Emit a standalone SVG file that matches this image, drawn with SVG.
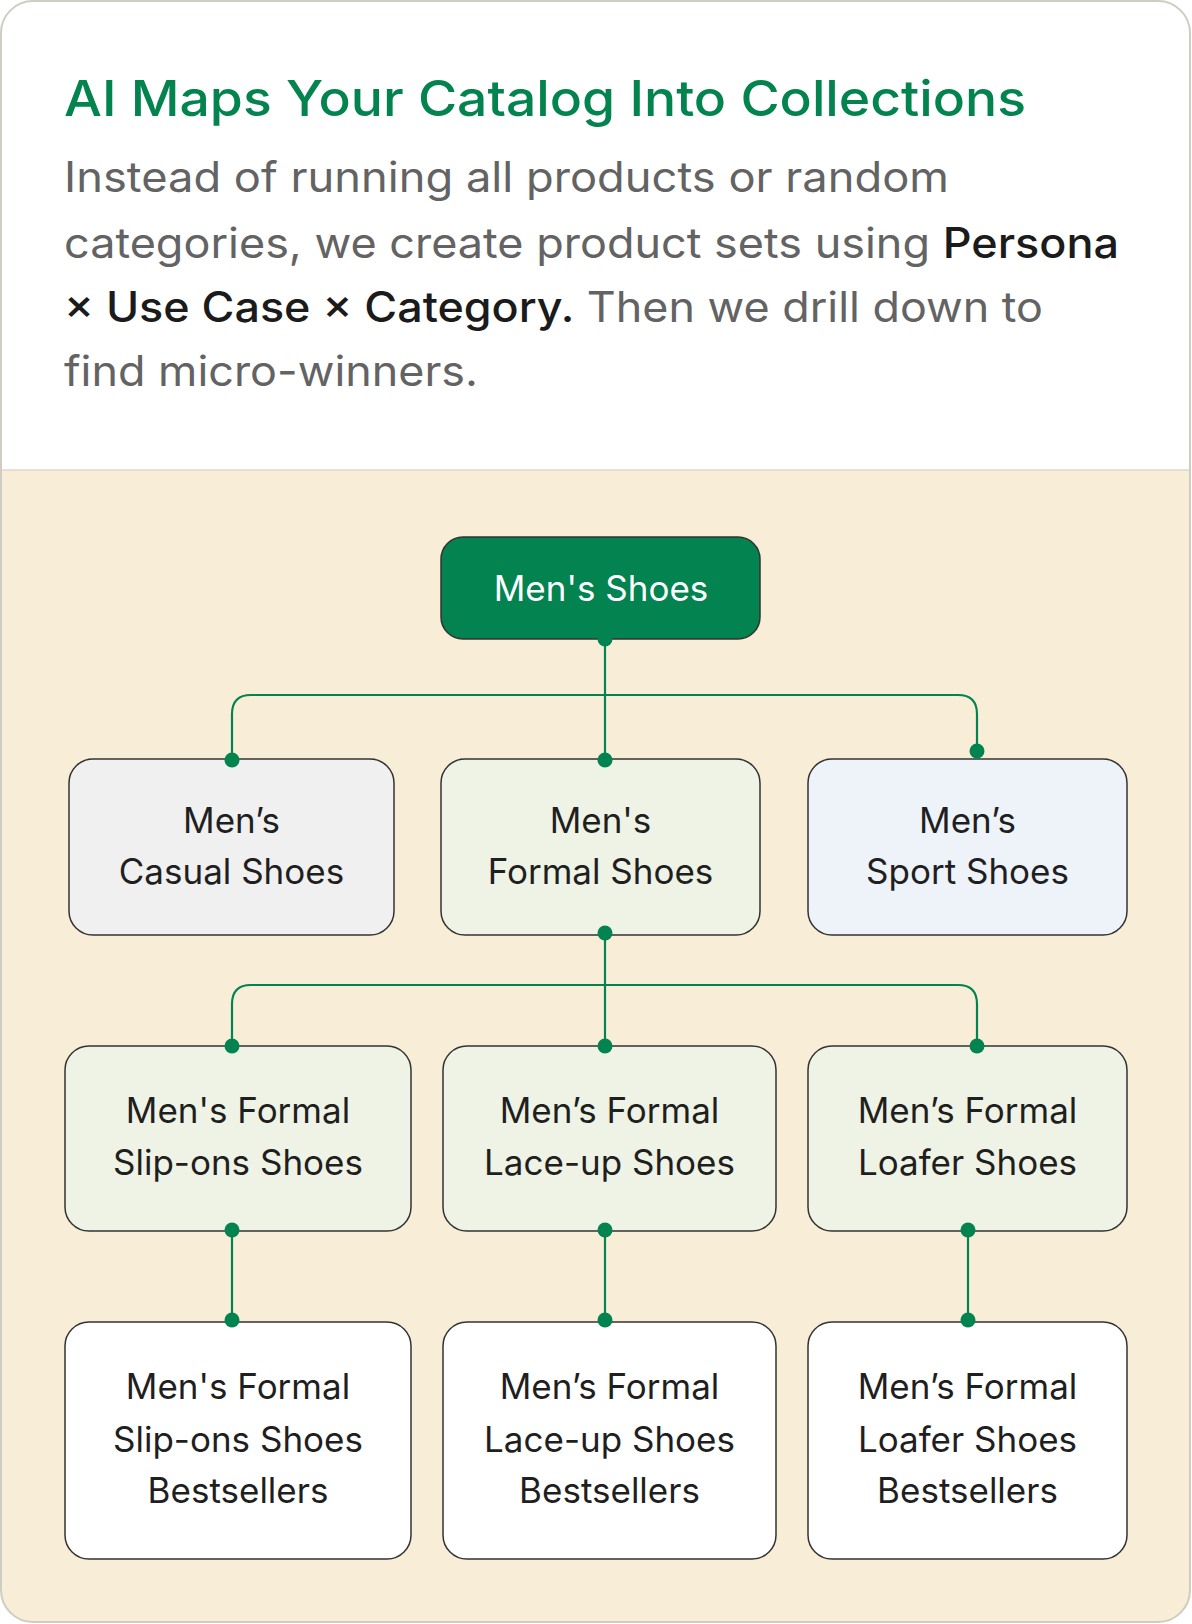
<svg xmlns="http://www.w3.org/2000/svg" width="1192" height="1624" viewBox="0 0 1192 1624">
<defs>
<clipPath id="card"><rect x="1" y="1" width="1189" height="1621" rx="32"/></clipPath>
<style>
.title{font-family:Inter,"Open Sans","Liberation Sans",sans-serif;font-size:50px;font-weight:500;fill:#03844f}
.para{font-family:Inter,"Open Sans","Liberation Sans",sans-serif;font-size:42px;font-weight:400;fill:#636363}
.em{fill:#1b1b1b;font-weight:500}
.box{stroke:#333;stroke-width:1.5}
.lbl{font-family:Inter,"Open Sans","Liberation Sans",sans-serif;font-size:35px;fill:#1f1f1f;text-anchor:middle}
.root{fill:#02834f}
.rootlbl{fill:#ffffff}
.wire{fill:none;stroke:#02834f;stroke-width:2.2}
.dot{fill:#02834f}
</style>
</defs>
<g clip-path="url(#card)">
<rect x="0" y="0" width="1192" height="470" fill="#ffffff"/>
<rect x="0" y="470" width="1192" height="1154" fill="#f8eed8"/>
</g>
<line x1="1" y1="470" x2="1190" y2="470" stroke="#dcd8ce" stroke-width="1.5"/>
<rect x="1" y="1" width="1189" height="1621" rx="32" fill="none" stroke="#cfccc1" stroke-width="2"/>
<g id="header">
<text class="title" x="64" y="116" textLength="962" lengthAdjust="spacingAndGlyphs">AI Maps Your Catalog Into Collections</text>
<text class="para" x="64" y="192" textLength="885" lengthAdjust="spacingAndGlyphs">Instead of running all products or random</text>
<text class="para" x="64" y="258" textLength="1055" lengthAdjust="spacingAndGlyphs">categories, we create product sets using <tspan class="em">Persona</tspan></text>
<text class="para" x="64" y="322" textLength="979" lengthAdjust="spacingAndGlyphs"><tspan class="em">× Use Case × Category.</tspan> Then we drill down to</text>
<text class="para" x="64" y="386" textLength="414" lengthAdjust="spacingAndGlyphs">find micro-winners.</text>
</g>
<g id="n-root">
<rect class="box root" x="441" y="537" width="319" height="102" rx="22"/>
<text class="lbl rootlbl" x="601" y="601">Men's Shoes</text>
</g>
<g id="n-casual">
<rect class="box" x="69" y="759" width="325" height="176" rx="24" fill="#f0f0f0"/>
<text class="lbl" x="231.5" y="833">Men’s</text>
<text class="lbl" x="231.5" y="884">Casual Shoes</text>
</g>
<g id="n-formal">
<rect class="box" x="441" y="759" width="319" height="176" rx="24" fill="#eef3e5"/>
<text class="lbl" x="600.5" y="833">Men's</text>
<text class="lbl" x="600.5" y="884">Formal Shoes</text>
</g>
<g id="n-sport">
<rect class="box" x="808" y="759" width="319" height="176" rx="24" fill="#eef3fa"/>
<text class="lbl" x="967.5" y="833">Men’s</text>
<text class="lbl" x="967.5" y="884">Sport Shoes</text>
</g>
<g id="n-slipons">
<rect class="box" x="65" y="1046" width="346" height="185" rx="24" fill="#eef3e5"/>
<text class="lbl" x="238" y="1123">Men's Formal</text>
<text class="lbl" x="238" y="1175">Slip-ons Shoes</text>
</g>
<g id="n-laceup">
<rect class="box" x="443" y="1046" width="333" height="185" rx="24" fill="#eef3e5"/>
<text class="lbl" x="609.5" y="1123">Men’s Formal</text>
<text class="lbl" x="609.5" y="1175">Lace-up Shoes</text>
</g>
<g id="n-loafer">
<rect class="box" x="808" y="1046" width="319" height="185" rx="24" fill="#eef3e5"/>
<text class="lbl" x="967.5" y="1123">Men’s Formal</text>
<text class="lbl" x="967.5" y="1175">Loafer Shoes</text>
</g>
<g id="n-slipons-best">
<rect class="box" x="65" y="1322" width="346" height="237" rx="24" fill="#ffffff"/>
<text class="lbl" x="238" y="1399">Men's Formal</text>
<text class="lbl" x="238" y="1452">Slip-ons Shoes</text>
<text class="lbl" x="238" y="1503">Bestsellers</text>
</g>
<g id="n-laceup-best">
<rect class="box" x="443" y="1322" width="333" height="237" rx="24" fill="#ffffff"/>
<text class="lbl" x="609.5" y="1399">Men’s Formal</text>
<text class="lbl" x="609.5" y="1452">Lace-up Shoes</text>
<text class="lbl" x="609.5" y="1503">Bestsellers</text>
</g>
<g id="n-loafer-best">
<rect class="box" x="808" y="1322" width="319" height="237" rx="24" fill="#ffffff"/>
<text class="lbl" x="967.5" y="1399">Men’s Formal</text>
<text class="lbl" x="967.5" y="1452">Loafer Shoes</text>
<text class="lbl" x="967.5" y="1503">Bestsellers</text>
</g>
<g id="connectors">
<path class="wire" d="M605,639 V759"/>
<path class="wire" d="M232,759 V714 Q232,695 251,695 H958 Q977,695 977,714 V751"/>
<path class="wire" d="M605,935 V1046"/>
<path class="wire" d="M232,1046 V1004 Q232,985 251,985 H958 Q977,985 977,1004 V1046"/>
<path class="wire" d="M232,1231 V1322"/>
<path class="wire" d="M605,1231 V1322"/>
<path class="wire" d="M968,1231 V1322"/>
<circle class="dot" cx="605" cy="639" r="7.5"/>
<circle class="dot" cx="232" cy="760" r="7.5"/>
<circle class="dot" cx="605" cy="760" r="7.5"/>
<circle class="dot" cx="977" cy="751" r="7.5"/>
<circle class="dot" cx="605" cy="933" r="7.5"/>
<circle class="dot" cx="232" cy="1046" r="7.5"/>
<circle class="dot" cx="605" cy="1046" r="7.5"/>
<circle class="dot" cx="977" cy="1046" r="7.5"/>
<circle class="dot" cx="232" cy="1230" r="7.5"/>
<circle class="dot" cx="605" cy="1230" r="7.5"/>
<circle class="dot" cx="968" cy="1230" r="7.5"/>
<circle class="dot" cx="232" cy="1320" r="7.5"/>
<circle class="dot" cx="605" cy="1320" r="7.5"/>
<circle class="dot" cx="968" cy="1320" r="7.5"/>
</g>
</svg>
